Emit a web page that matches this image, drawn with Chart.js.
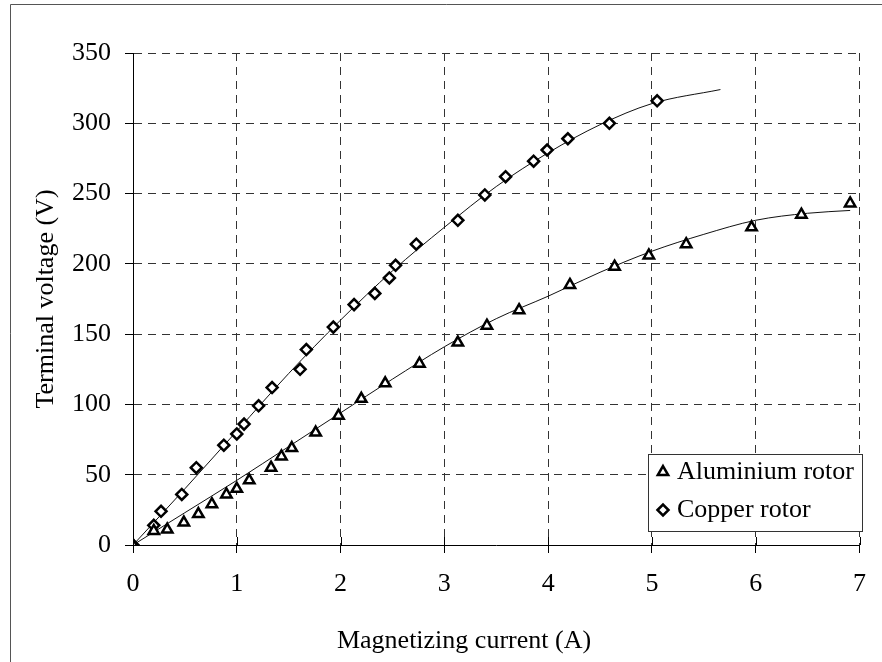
<!DOCTYPE html>
<html>
<head>
<meta charset="utf-8">
<script src="https://cdn.jsdelivr.net/npm/chart.js@4.4.1/dist/chart.umd.min.js"></script>
<style>
  html, body { margin: 0; padding: 0; background: #fff; }
  #wrap { width: 882px; height: 662px; }
</style>
</head>
<body>
<div id="wrap"><canvas id="chart" width="882" height="662"></canvas></div>
<script>
// measured points: magnetizing current (A) vs terminal voltage (V)
const alCurrent = [0, 0.2, 0.33, 0.49, 0.63, 0.76, 0.9, 1.0, 1.12, 1.33, 1.43, 1.53, 1.76, 1.98,
  2.2, 2.43, 2.76, 3.13, 3.41, 3.72, 4.21, 4.64, 4.97, 5.33, 5.96, 6.44, 6.91];
const alVoltage = [0, 10, 11, 16, 22, 29, 36, 40, 46, 55, 63, 69, 80, 92,
  104, 115, 129, 144, 156, 167, 185, 198, 206, 214, 226, 235, 243];

const cuCurrent = [0, 0.2, 0.27, 0.47, 0.61, 0.875, 1.0, 1.07, 1.21, 1.34, 1.61, 1.67, 1.93,
  2.13, 2.33, 2.47, 2.53, 2.73, 3.13, 3.39, 3.59, 3.86, 3.99, 4.19, 4.59, 5.05];
const cuVoltage = [0, 14, 24, 36, 55, 71, 79, 86, 99, 112, 125, 139, 155,
  171, 179, 190, 199, 214, 231, 249, 262, 273, 281, 289, 300, 316];

// trend curves
const alTrendX = [0, 0.5, 1, 1.5, 2, 2.5, 3, 3.5, 4, 4.5, 5, 5.5, 6, 6.5, 6.91];
const alTrendY = [0, 23, 46, 70, 94, 118, 141, 161, 177, 194, 209, 221, 231, 236, 238];
const cuTrendX = [0, 0.5, 1, 1.5, 2, 2.5, 3, 3.5, 4, 4.5, 5, 5.66];
const cuTrendY = [0, 40, 81, 122, 160, 195, 226, 255, 279, 299, 314, 324];

const legendLabels = ["Aluminium rotor", "Copper rotor"];
const xTitle = "Magnetizing current (A)";
const yTitle = "Terminal voltage (V)";

const FONT = "'Liberation Serif', 'Times New Roman', serif";

function toPoints(xs, ys) {
  return xs.map((x, i) => ({ x: x, y: ys[i] }));
}

// thin frame round the whole figure
const framePlugin = {
  id: "frame",
  beforeDraw(chart) {
    const ctx = chart.ctx;
    ctx.save();
    ctx.fillStyle = "#fff";
    ctx.fillRect(0, 0, chart.width, chart.height);
    ctx.strokeStyle = "#555";
    ctx.lineWidth = 1;
    ctx.beginPath();
    ctx.moveTo(10.5, chart.height);
    ctx.lineTo(10.5, 4.5);
    ctx.lineTo(chart.width, 4.5);
    ctx.stroke();
    ctx.restore();
  },
};

// axis titles, inner tick marks and the boxed legend
const overlayPlugin = {
  id: "overlay",
  afterDraw(chart) {
    const ctx = chart.ctx;
    const area = chart.chartArea;
    const xs = chart.scales.x;
    ctx.save();

    // short solid marks just inside the x axis
    ctx.strokeStyle = "#000";
    ctx.lineWidth = 1;
    xs.ticks.forEach((t) => {
      const px = Math.round(xs.getPixelForValue(t.value)) + 0.5;
      ctx.beginPath();
      ctx.moveTo(px, area.bottom - 8);
      ctx.lineTo(px, area.bottom);
      ctx.stroke();
    });

    ctx.fillStyle = "#000";
    ctx.font = "26px " + FONT;
    ctx.textAlign = "center";
    ctx.textBaseline = "middle";
    ctx.fillText(xTitle, 464, 641);

    ctx.save();
    ctx.translate(46, (area.top + area.bottom) / 2);
    ctx.rotate(-Math.PI / 2);
    ctx.fillText(yTitle, 0, 0);
    ctx.restore();

    // legend box
    const box = { left: 648, top: 454, right: 862, bottom: 531 };
    ctx.fillStyle = "#fff";
    ctx.fillRect(box.left, box.top, box.right - box.left, box.bottom - box.top);
    ctx.strokeStyle = "#333";
    ctx.strokeRect(box.left + 0.5, box.top + 0.5, box.right - box.left, box.bottom - box.top);

    const rows = [472, 510];
    chart.data.datasets
      .filter((ds) => ds.showLine === false)
      .forEach((ds, i) => {
        ctx.fillStyle = "#fff";
        ctx.strokeStyle = "#000";
        ctx.lineWidth = ds.borderWidth;
        Chart.helpers.drawPoint(ctx, {
          pointStyle: ds.pointStyle,
          radius: ds.pointRadius,
          borderWidth: ds.borderWidth,
        }, 663, rows[i]);
        ctx.fillStyle = "#000";
        ctx.textAlign = "left";
        ctx.fillText(legendLabels[i], 677, rows[i]);
      });

    ctx.restore();
  },
};

new Chart(document.getElementById("chart"), {
  type: "scatter",
  data: {
    datasets: [
      {
        label: legendLabels[0],
        data: toPoints(alCurrent, alVoltage),
        showLine: false,
        pointStyle: "triangle",
        pointRadius: 6,
        borderWidth: 2.5,
        borderColor: "#000",
        backgroundColor: "#fff",
      },
      {
        label: legendLabels[1],
        data: toPoints(cuCurrent, cuVoltage),
        showLine: false,
        pointStyle: "rectRot",
        pointRadius: 5.5,
        borderWidth: 2.5,
        borderColor: "#000",
        backgroundColor: "#fff",
      },
      {
        data: toPoints(alTrendX, alTrendY),
        showLine: true,
        pointRadius: 0,
        borderColor: "#111",
        borderWidth: 1,
        cubicInterpolationMode: "monotone",
      },
      {
        data: toPoints(cuTrendX, cuTrendY),
        showLine: true,
        pointRadius: 0,
        borderColor: "#111",
        borderWidth: 1,
        cubicInterpolationMode: "monotone",
      },
    ],
  },
  options: {
    responsive: false,
    animation: false,
    events: [],
    layout: { padding: { left: 0, top: 53, right: 21, bottom: 0 } },
    plugins: {
      legend: { display: false },
      tooltip: { enabled: false },
    },
    scales: {
      x: {
        type: "linear",
        min: 0,
        max: 7,
        afterFit(scale) { scale.height = 117; },
        ticks: { stepSize: 1, padding: 16, color: "#000", font: { family: FONT, size: 26 } },
        grid: { color: "#333", lineWidth: 1, tickLength: 8, tickColor: "#000", tickBorderDash: [] },
        border: { display: true, color: "#000", width: 1, dash: [8, 6] },
      },
      y: {
        min: 0,
        max: 350,
        afterFit(scale) { scale.width = 133; },
        ticks: { stepSize: 50, padding: 14, color: "#000", font: { family: FONT, size: 26 } },
        grid: { color: "#333", lineWidth: 1, tickLength: 8, tickColor: "#000", tickBorderDash: [] },
        border: { display: true, color: "#000", width: 1, dash: [8, 6] },
      },
    },
  },
  plugins: [framePlugin, overlayPlugin],
});
</script>
</body>
</html>
